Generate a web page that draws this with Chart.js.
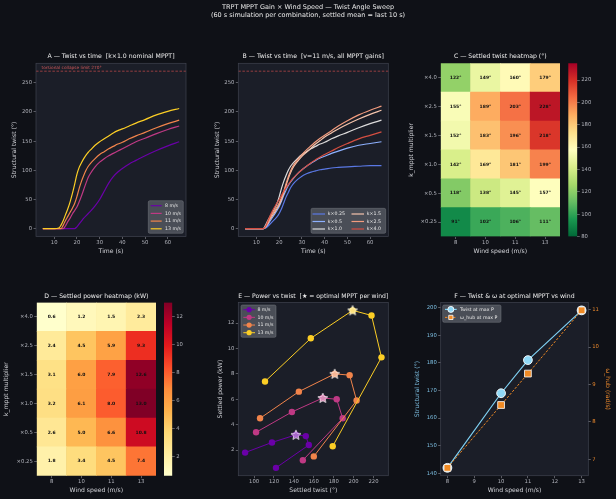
<!DOCTYPE html>
<html>
<head>
<meta charset="utf-8">
<script src="https://cdn.jsdelivr.net/npm/chart.js@4.4.1/dist/chart.umd.min.js"></script>
<style>
  html, body { margin: 0; padding: 0; background: #0f1117; }
  #fig { position: relative; width: 616px; height: 499px; overflow: hidden; background: #0f1117; }
  #fig canvas { position: absolute; }
</style>
</head>
<body>
<div id="fig"></div>
<script>
// ---------------- data ----------------
const SUPTITLE = ['TRPT MPPT Gain × Wind Speed — Twist Angle Sweep', '(60 s simulation per combination, settled mean = last 10 s)'];
const TIME = [5, 10, 12, 13, 14, 15, 16, 17, 18, 19, 20, 21, 22, 23, 24, 25, 26, 28, 30, 32, 34, 36, 38, 40, 43, 46, 50, 55, 60, 65];

// panel A: twist (deg) vs time, k x1.0
const TWIST_8MS  = [0, 0, 0, 0, 0, 0, 0, 0, 0, 0, 3, 8, 13, 18, 22, 26, 30, 39, 50, 64, 78, 89, 97, 103, 111, 117, 125, 134, 142, 149];
const TWIST_10MS = [0, 0, 0, 0, 0, 5, 12, 18, 25, 31, 37, 46, 56, 67, 78, 88, 95, 106, 114, 120, 125, 129, 133, 137, 143, 149, 155, 163, 170, 176];
const TWIST_11MS = [0, 0, 0, 0, 6, 14, 21, 28, 35, 43, 55, 69, 81, 91, 100, 107, 112, 120, 127, 132, 137, 141, 145, 148, 154, 159, 165, 173, 180, 186];
const TWIST_13MS = [0, 0, 1, 6, 14, 24, 34, 46, 60, 76, 93, 105, 113, 120, 126, 131, 135, 143, 149, 154, 159, 164, 168, 171, 176, 181, 187, 195, 201, 206];

// panel B: twist (deg) vs time at 11 m/s, per MPPT gain
const B_K025 = [0, 0, 0, 0, 1, 4, 8, 12, 16, 20, 26, 34, 44, 54, 62, 70, 76, 84, 90, 94, 97, 99, 101, 102, 104, 105, 106, 107, 108, 108];
const B_K05  = [0, 0, 0, 0, 2, 7, 13, 19, 25, 31, 38, 47, 57, 66, 74, 80, 85, 94, 101, 107, 112, 117, 121, 124, 129, 133, 138, 143, 146, 149];
const B_K10  = TWIST_11MS;
const B_K15  = [0, 0, 0, 0, 3, 9, 16, 22, 28, 34, 41, 50, 61, 74, 86, 96, 104, 115, 124, 131, 138, 145, 151, 157, 164, 171, 179, 188, 196, 203];
const B_K25  = [0, 0, 0, 0, 3, 10, 18, 25, 31, 37, 44, 53, 64, 77, 89, 99, 107, 118, 127, 135, 142, 149, 155, 160, 168, 176, 185, 195, 203, 210];
const B_K40  = [0, 0, 0, 0, 4, 13, 22, 30, 37, 44, 50, 57, 64, 70, 76, 81, 86, 94, 101, 107, 113, 118, 123, 127, 133, 139, 146, 154, 160, 166];

const WINDS = [8, 10, 11, 13];
const WIND_LABELS = ['8 m/s', '10 m/s', '11 m/s', '13 m/s'];
const K_LABELS = ['×0.25', '×0.5', '×1.0', '×1.5', '×2.5', '×4.0'];
const K_LEGEND = ['k×0.25', 'k×0.5', 'k×1.0', 'k×1.5', 'k×2.5', 'k×4.0'];

// settled values, rows = k (×0.25 .. ×4.0), cols = wind (8, 10, 11, 13)
const SETTLED_TWIST = [
  [91, 102, 106, 111],
  [118, 138, 145, 157],
  [142, 169, 181, 199],
  [152, 183, 196, 218],
  [155, 189, 203, 228],
  [122, 149, 160, 179]
];
const SETTLED_POWER = [
  [1.8, 3.4, 4.5, 7.4],
  [2.6, 5.0, 6.6, 10.8],
  [3.2, 6.1, 8.0, 13.0],
  [3.1, 6.0, 7.9, 12.6],
  [2.4, 4.5, 5.9, 9.3],
  [0.6, 1.2, 1.5, 2.3]
];
const OMEGA_AT_MAXP = [6.77, 8.45, 9.29, 10.98];
const COLLAPSE_LIMIT = 270;
const TWIST_CBAR = [80, 235];
const POWER_CBAR = [0.6, 13.0];

// tick labels
const TIME_TICKS = [10, 20, 30, 40, 50, 60];
const TWIST_TICKS = [0, 50, 100, 150, 200, 250];
const TWIST_CBAR_TICKS = [80, 100, 120, 140, 160, 180, 200, 220];
const POWER_CBAR_TICKS = [2, 4, 6, 8, 10, 12];
const E_X_TICKS = [100, 120, 140, 160, 180, 200, 220];
const E_Y_TICKS = [2, 4, 6, 8, 10, 12];
const F_X_TICKS = [8, 9, 10, 11, 12, 13];
const F_TWIST_TICKS = [140, 150, 160, 170, 180, 190, 200];
const F_OMEGA_TICKS = [7, 8, 9, 10, 11];

// ---------------- styles ----------------
const FONT = "'DejaVu Sans', sans-serif";
const AX_BG = '#1b1e28';
const SPINE = '#40434f';
const TICK_C = '#b0b2ba';
const LABEL_C = '#d2d3d8';
const HALF_LH = 6.1 * 1.2 / 2;
const WIND_COLORS = ['#6a00a8', '#bf3984', '#f1844b', '#fcce25'];
const K_COLORS = ['#5a78e4', '#8db0fe', '#dddcdc', '#f5c4ac', '#f39c7e', '#d44e41'];
const RDYLGN_R = ['#006837', '#1a9850', '#66bd63', '#a6d96a', '#d9ef8b', '#ffffbf', '#fee08b', '#fdae61', '#f46d43', '#d73027', '#a50026'];
const YLORRD = ['#ffffcc', '#ffeda0', '#fed976', '#feb24c', '#fd8d3c', '#fc4e2a', '#e31a1c', '#bd0026', '#800026'];

const ROW = [
  { y: 45, h: 215, top: 63.3, bottom: 236.5, titleY: 56.7, xTitleY: 251 },
  { y: 260, h: 239, top: 302.5, bottom: 475.7, titleY: 296, xTitleY: 490.7 }
];

Chart.defaults.font.family = FONT;
Chart.defaults.font.size = 5.3;
Chart.defaults.color = TICK_C;

function hexRgb(h) {
  const n = parseInt(h.slice(1), 16);
  return [n >> 16, (n >> 8) & 255, n & 255];
}
function cmap(stops, t) {
  t = Math.max(0, Math.min(1, t));
  const p = t * (stops.length - 1), i = Math.min(Math.floor(p), stops.length - 2), f = p - i;
  const a = hexRgb(stops[i]), b = hexRgb(stops[i + 1]);
  return 'rgb(' + a.map((v, k) => Math.round(v + (b[k] - v) * f)).join(',') + ')';
}
function lighten(hex, t) {
  return 'rgb(' + hexRgb(hex).map(v => Math.round(v + (255 - v) * t)).join(',') + ')';
}

// ---------------- plugins ----------------
const frame = {
  id: 'frame',
  defaults: { bg: AX_BG, spine: SPINE },
  beforeDraw(chart, args, o) {
    if (!o.bg) return;
    const { ctx, chartArea: ca } = chart;
    ctx.save();
    ctx.fillStyle = o.bg;
    ctx.fillRect(ca.left, ca.top, ca.width, ca.height);
    ctx.restore();
  },
  afterDatasetsDraw(chart, args, o) {
    if (!o.spine) return;
    const { ctx, chartArea: ca } = chart;
    ctx.save();
    ctx.strokeStyle = o.spine;
    ctx.lineWidth = 0.7;
    ctx.strokeRect(ca.left, ca.top, ca.width, ca.height);
    ctx.restore();
  }
};

const collapse = {
  id: 'collapse',
  beforeDatasetsDraw(chart, args, o) {
    if (!o.show) return;
    const { ctx, chartArea: ca, scales } = chart;
    const py = scales.y.getPixelForValue(COLLAPSE_LIMIT);
    ctx.save();
    ctx.strokeStyle = 'rgba(220,80,80,0.8)';
    ctx.lineWidth = 0.8;
    ctx.setLineDash([2.5, 1.6]);
    ctx.beginPath();
    ctx.moveTo(ca.left, py);
    ctx.lineTo(ca.right, py);
    ctx.stroke();
    if (o.label) {
      ctx.fillStyle = 'rgba(230,95,95,0.9)';
      ctx.font = '4.3px ' + FONT;
      ctx.textBaseline = 'middle';
      ctx.fillText(o.label, ca.left + 5.5, py - 3.6);
    }
    ctx.restore();
  }
};

const cells = {
  id: 'cells',
  afterDatasetsDraw(chart, args, o) {
    if (o.decimals === undefined) return;
    const ctx = chart.ctx;
    ctx.save();
    ctx.fillStyle = '#111111';
    ctx.font = 'bold 4.5px ' + FONT;
    ctx.textAlign = 'center';
    ctx.textBaseline = 'middle';
    chart.data.datasets.forEach((ds, di) => {
      chart.getDatasetMeta(di).data.forEach((el, j) => {
        ctx.fillText(ds.cellValues[j].toFixed(o.decimals) + (o.suffix || ''), el.x, (el.y + el.base) / 2);
      });
    });
    ctx.restore();
  }
};

function drawMarker(ctx, style, x, y, r, fill, stroke, lw) {
  ctx.save();
  ctx.setLineDash([]);
  ctx.beginPath();
  if (style === 'rect') {
    const s = r * Math.SQRT1_2;
    ctx.rect(x - s, y - s, 2 * s, 2 * s);
  } else {
    ctx.arc(x, y, r, 0, Math.PI * 2);
  }
  ctx.fillStyle = fill;
  ctx.fill();
  if (lw) { ctx.strokeStyle = stroke; ctx.lineWidth = lw; ctx.stroke(); }
  ctx.restore();
}

const boxLegend = {
  id: 'boxLegend',
  afterDraw(chart, args, o) {
    if (!o.w) return;
    const { ctx, chartArea: ca } = chart;
    const bx = o.right ? ca.right - o.dx - o.w : ca.left + o.dx;
    const by = o.bottom ? ca.bottom - o.dy - o.h : ca.top + o.dy;
    ctx.save();
    ctx.beginPath();
    ctx.roundRect(bx, by, o.w, o.h, 1.5);
    ctx.fillStyle = 'rgba(80,83,92,0.9)';
    ctx.fill();
    ctx.strokeStyle = 'rgba(125,128,136,0.9)';
    ctx.lineWidth = 0.5;
    ctx.stroke();
    const items = chart.data.datasets.filter(d => !d.noLegend);
    const rows = Math.ceil(items.length / (o.cols || 1));
    ctx.font = '4.7px ' + FONT;
    ctx.textBaseline = 'middle';
    items.forEach((d, i) => {
      const col = Math.floor(i / rows), row = i % rows;
      const hx = bx + o.pad + col * (o.colW || 0), hy = by + o.y0 + row * o.rowH;
      ctx.strokeStyle = d.borderColor;
      ctx.lineWidth = d.borderWidth;
      ctx.setLineDash(d.borderDash || []);
      ctx.beginPath();
      ctx.moveTo(hx, hy);
      ctx.lineTo(hx + o.len, hy);
      ctx.stroke();
      if (o.mr) drawMarker(ctx, d.pointStyle, hx + o.len / 2, hy, o.mr, d.pointBackgroundColor, d.pointBorderColor, d.pointBorderWidth);
      ctx.fillStyle = '#e6e6e6';
      ctx.fillText(d.label, hx + o.len + o.gap, hy);
    });
    ctx.restore();
  }
};

Chart.register(frame, collapse, cells, boxLegend);

// ---------------- helpers ----------------
function canvasAt(x, y, w, h) {
  const c = document.createElement('canvas');
  c.width = w; c.height = h;
  c.style.left = x + 'px'; c.style.top = y + 'px';
  c.style.width = w + 'px'; c.style.height = h + 'px';
  document.getElementById('fig').appendChild(c);
  return c;
}

// figure title
{
  const g = canvasAt(0, 0, 616, 24).getContext('2d');
  g.fillStyle = '#e8e8e8';
  g.font = '6.5px ' + FONT;
  g.textAlign = 'center';
  g.textBaseline = 'middle';
  SUPTITLE.forEach((s, i) => g.fillText(s, 308, 7.4 + i * 8.4));
}

function axis(pos, size, tickVals, o = {}) {
  const horiz = pos === 'bottom';
  const cfg = {
    type: o.type || 'linear',
    position: pos,
    afterFit: s => { if (horiz) s.height = size; else s.width = size; },
    grid: { drawOnChartArea: false, drawTicks: true, tickLength: 2.5, tickWidth: 0.6, tickColor: '#8e9099', offset: false },
    border: { display: false },
    ticks: { color: o.color || TICK_C, font: { size: 5.3 }, padding: horiz ? 0.7 : 1.4, maxRotation: 0, autoSkip: false },
    title: { display: !!o.title, text: o.title || '', color: o.titleColor || LABEL_C, font: { size: 6.1 },
             padding: { top: o.tpad || 0, bottom: o.tpad || 0 } }
  };
  if (o.min !== undefined) { cfg.min = o.min; cfg.max = o.max; }
  if (tickVals) cfg.afterBuildTicks = s => { s.ticks = tickVals.map(v => ({ value: v })); };
  if (o.callback) cfg.ticks.callback = o.callback;
  return cfg;
}

function titleCfg(text, r) {
  const lh = 6.2 * 1.2, pt = r.titleY - r.y - lh / 2;
  return { display: true, text, fullSize: false, color: '#eeeeee', font: { size: 6.2, weight: 'normal' },
           padding: { top: pt, bottom: r.top - r.y - lh - pt } };
}

function opts(o) {
  const base = { responsive: false, animation: false, devicePixelRatio: 1, events: [] };
  const out = Object.assign(base, o);
  out.plugins = Object.assign({ legend: { display: false }, tooltip: { enabled: false } }, o.plugins);
  return out;
}

function lineSet(label, color, xs, ys, extra) {
  return Object.assign({
    label, data: xs.map((x, j) => ({ x, y: ys[j] })),
    borderColor: color, backgroundColor: color, pointBackgroundColor: color, pointBorderColor: color,
    borderWidth: 1.2, pointRadius: 0, cubicInterpolationMode: 'monotone'
  }, extra || {});
}

const xTitlePad = r => r.y + r.h - r.xTitleY - HALF_LH;

// ---------------- A: twist vs time, nominal gain ----------------
{
  const r = ROW[0], cx = 0, cw = 200;
  const series = [TWIST_8MS, TWIST_10MS, TWIST_11MS, TWIST_13MS];
  new Chart(canvasAt(cx, r.y, cw, r.h), {
    type: 'line',
    data: { datasets: series.map((ys, i) => lineSet(WIND_LABELS[i], WIND_COLORS[i], TIME, ys, { order: 10 - i })) },
    options: opts({
      layout: { padding: { right: cx + cw - 186 } },
      scales: {
        x: axis('bottom', r.y + r.h - r.bottom, TIME_TICKS, { min: 2, max: 68, title: 'Time (s)', tpad: xTitlePad(r) }),
        y: axis('left', 36 - cx, TWIST_TICKS, { min: -13.5, max: 283.5, title: 'Structural twist (°)', tpad: 14 - cx - HALF_LH })
      },
      plugins: {
        title: titleCfg('A — Twist vs time  [k×1.0 nominal MPPT]', r),
        collapse: { show: true, label: 'torsional collapse limit ' + COLLAPSE_LIMIT + '°' },
        boxLegend: { right: true, bottom: true, dx: 2.7, dy: 3.2, w: 35, h: 32.6, pad: 2.4, len: 11, gap: 3.3, y0: 5, rowH: 7.7 }
      }
    })
  });
}

// ---------------- B: twist vs time, all gains ----------------
{
  const r = ROW[0], cx = 200, cw = 205;
  const series = [B_K025, B_K05, B_K10, B_K15, B_K25, B_K40];
  new Chart(canvasAt(cx, r.y, cw, r.h), {
    type: 'line',
    data: { datasets: series.map((ys, i) => lineSet(K_LEGEND[i], K_COLORS[i], TIME, ys, { order: 10 - i })) },
    options: opts({
      layout: { padding: { right: cx + cw - 388.3 } },
      scales: {
        x: axis('bottom', r.y + r.h - r.bottom, TIME_TICKS, { min: 2, max: 68, title: 'Time (s)', tpad: xTitlePad(r) }),
        y: axis('left', 238.3 - cx, TWIST_TICKS, { min: -13.5, max: 283.5, title: 'Structural twist (°)', tpad: 217.7 - cx - HALF_LH })
      },
      plugins: {
        title: titleCfg('B — Twist vs time  [v=11 m/s, all MPPT gains]', r),
        collapse: { show: true },
        boxLegend: { right: true, bottom: true, dx: 2.6, dy: 3.2, w: 74.7, h: 25, pad: 1.5, len: 12.5, gap: 2.8, y0: 5.7, rowH: 7.5, cols: 2, colW: 39 }
      }
    })
  });
}

// ---------------- heatmaps + colorbars ----------------
function heatmap(r, cx, cw, left, right, labelX, grid, stops, range, title, decimals, suffix) {
  new Chart(canvasAt(cx, r.y, cw, r.h), {
    type: 'bar',
    data: {
      labels: WINDS.map(String),
      datasets: grid.map((vals, ki) => ({
        label: K_LABELS[ki],
        data: vals.map(() => [ki, ki + 1]),
        cellValues: vals,
        backgroundColor: vals.map(v => cmap(stops, (v - range[0]) / (range[1] - range[0]))),
        borderWidth: 0, barPercentage: 1, categoryPercentage: 1, grouped: false
      }))
    },
    options: opts({
      layout: { padding: { right: cx + cw - right } },
      scales: {
        x: axis('bottom', r.y + r.h - r.bottom, null, { type: 'category', title: 'Wind speed (m/s)', tpad: xTitlePad(r) }),
        y: axis('left', left - cx, K_LABELS.map((_, i) => i + 0.5), {
          min: 0, max: K_LABELS.length, title: 'k_mppt multiplier', tpad: labelX - cx - HALF_LH,
          callback: (v, i) => K_LABELS[i]
        })
      },
      plugins: { title: titleCfg(title, r), frame: { bg: false, spine: false }, cells: { decimals, suffix } }
    })
  });
}

function colorbar(r, cx, cw, left, right, stops, range, ticks) {
  new Chart(canvasAt(cx, r.y, cw, r.h), {
    type: 'bar',
    data: {
      labels: [''],
      datasets: [{
        data: [range], borderWidth: 0, barPercentage: 1, categoryPercentage: 1, noLegend: true,
        backgroundColor: c => {
          const ca = c.chart.chartArea;
          if (!ca) return 'rgba(0,0,0,0)';
          const g = c.chart.ctx.createLinearGradient(0, ca.bottom, 0, ca.top);
          stops.forEach((s, i) => g.addColorStop(i / (stops.length - 1), s));
          return g;
        }
      }]
    },
    options: opts({
      layout: { padding: { left: left - cx, top: r.top - r.y, bottom: r.y + r.h - r.bottom } },
      scales: {
        x: { display: false },
        y: axis('right', cx + cw - right, ticks, { min: range[0], max: range[1] })
      },
      plugins: { frame: { bg: false, spine: false } }
    })
  });
}

heatmap(ROW[0], 405, 160, 440.7, 560, 411, SETTLED_TWIST, RDYLGN_R, TWIST_CBAR, 'C — Settled twist heatmap (°)', 0, '°');
colorbar(ROW[0], 563, 53, 568.3, 577.3, RDYLGN_R, TWIST_CBAR, TWIST_CBAR_TICKS);
heatmap(ROW[1], 0, 160, 36.7, 156, 6.3, SETTLED_POWER, YLORRD, POWER_CBAR, 'D — Settled power heatmap (kW)', 1, '');
colorbar(ROW[1], 158, 45, 164, 172.3, YLORRD, POWER_CBAR, POWER_CBAR_TICKS);

// ---------------- E: power vs twist ----------------
function starImage(fill, rad) {
  const s = Math.ceil(rad * 2 + 3), c = document.createElement('canvas');
  c.width = c.height = s;
  const g = c.getContext('2d');
  g.translate(s / 2, s / 2 + 0.4);
  g.beginPath();
  for (let i = 0; i < 10; i++) {
    const rr = i % 2 ? rad * 0.45 : rad, a = -Math.PI / 2 + i * Math.PI / 5;
    g.lineTo(rr * Math.cos(a), rr * Math.sin(a));
  }
  g.closePath();
  g.fillStyle = fill;
  g.fill();
  g.lineWidth = 0.7;
  g.strokeStyle = '#ffffff';
  g.stroke();
  return c;
}

// index of the MPPT gain giving max settled power, per wind
const BEST_K = WINDS.map((w, wi) => {
  let b = 0;
  SETTLED_POWER.forEach((row, ki) => { if (row[wi] > SETTLED_POWER[b][wi]) b = ki; });
  return b;
});

{
  const r = ROW[1], cx = 200, cw = 205;
  const lines = WINDS.map((w, wi) => lineSet(WIND_LABELS[wi], WIND_COLORS[wi],
    SETTLED_TWIST.map(row => row[wi]), SETTLED_POWER.map(row => row[wi]),
    { borderWidth: 1, pointRadius: 3.2, pointBorderWidth: 0, cubicInterpolationMode: 'default', tension: 0, order: 10 - wi }));
  const stars = WINDS.map((w, wi) => ({
    label: '', noLegend: true, showLine: false, order: 0,
    data: [{ x: SETTLED_TWIST[BEST_K[wi]][wi], y: SETTLED_POWER[BEST_K[wi]][wi] }],
    pointStyle: starImage(lighten(WIND_COLORS[wi], 0.4), 5.2), pointRadius: 5
  }));
  new Chart(canvasAt(cx, r.y, cw, r.h), {
    type: 'line',
    data: { datasets: lines.concat(stars) },
    options: opts({
      layout: { padding: { right: cx + cw - 388.3 } },
      scales: {
        x: axis('bottom', r.y + r.h - r.bottom, E_X_TICKS, { min: 84.15, max: 234.85, title: 'Settled twist (°)', tpad: xTitlePad(r) }),
        y: axis('left', 238.3 - cx, E_Y_TICKS, { min: -0.02, max: 13.62, title: 'Settled power (kW)', tpad: 220 - cx - HALF_LH })
      },
      plugins: {
        title: titleCfg('E — Power vs twist  [★ = optimal MPPT per wind]', r),
        boxLegend: { dx: 2.7, dy: 2.5, w: 35, h: 32.3, pad: 2.3, len: 11.7, gap: 2.4, y0: 4.7, rowH: 7.67, mr: 2.6 }
      }
    })
  });
}

// ---------------- F: twist & omega at optimum ----------------
{
  const r = ROW[1], cx = 405, cw = 211;
  const twistAtMax = WINDS.map((w, wi) => SETTLED_TWIST[BEST_K[wi]][wi]);
  const TW_C = '#7fd0f2', OM_C = '#f08a24';
  new Chart(canvasAt(cx, r.y, cw, r.h), {
    type: 'line',
    data: {
      datasets: [
        lineSet('Twist at max P', TW_C, WINDS, twistAtMax, {
          yAxisID: 'y', order: 1, tension: 0, cubicInterpolationMode: 'default', borderWidth: 1.2,
          pointRadius: 4.4, pointBackgroundColor: '#8fd8f6', pointBorderColor: '#ffffff', pointBorderWidth: 0.9
        }),
        lineSet('ω_hub at max P', OM_C, WINDS, OMEGA_AT_MAXP, {
          yAxisID: 'y1', order: 0, tension: 0, cubicInterpolationMode: 'default', borderWidth: 1, borderDash: [2.4, 1.6],
          pointStyle: 'rect', pointRadius: 4.8, pointBackgroundColor: OM_C, pointBorderColor: '#ffffff', pointBorderWidth: 0.8
        })
      ]
    },
    options: opts({
      scales: {
        x: axis('bottom', r.y + r.h - r.bottom, F_X_TICKS, { min: 7.75, max: 13.25, title: 'Wind speed (m/s)', tpad: xTitlePad(r) }),
        y: axis('left', 440.7 - cx, F_TWIST_TICKS, { min: 139.15, max: 201.85, title: 'Structural twist (°)', tpad: 417.7 - cx - HALF_LH,
                                                    color: '#7dbfe2', titleColor: '#7dbfe2' }),
        y1: axis('right', cx + cw - 588.3, F_OMEGA_TICKS, { min: 6.56, max: 11.19, title: 'ω_hub (rad/s)', tpad: cx + cw - 607.3 - HALF_LH,
                                                           color: '#e8872c', titleColor: '#e8872c' })
      },
      plugins: {
        title: titleCfg('F — Twist & ω at optimal MPPT vs wind', r),
        boxLegend: { dx: 2, dy: 2.5, w: 58.3, h: 17.3, pad: 2.3, len: 11.7, gap: 3.3, y0: 4.4, rowH: 8, mr: 3 }
      }
    })
  });
}
</script>
</body>
</html>
